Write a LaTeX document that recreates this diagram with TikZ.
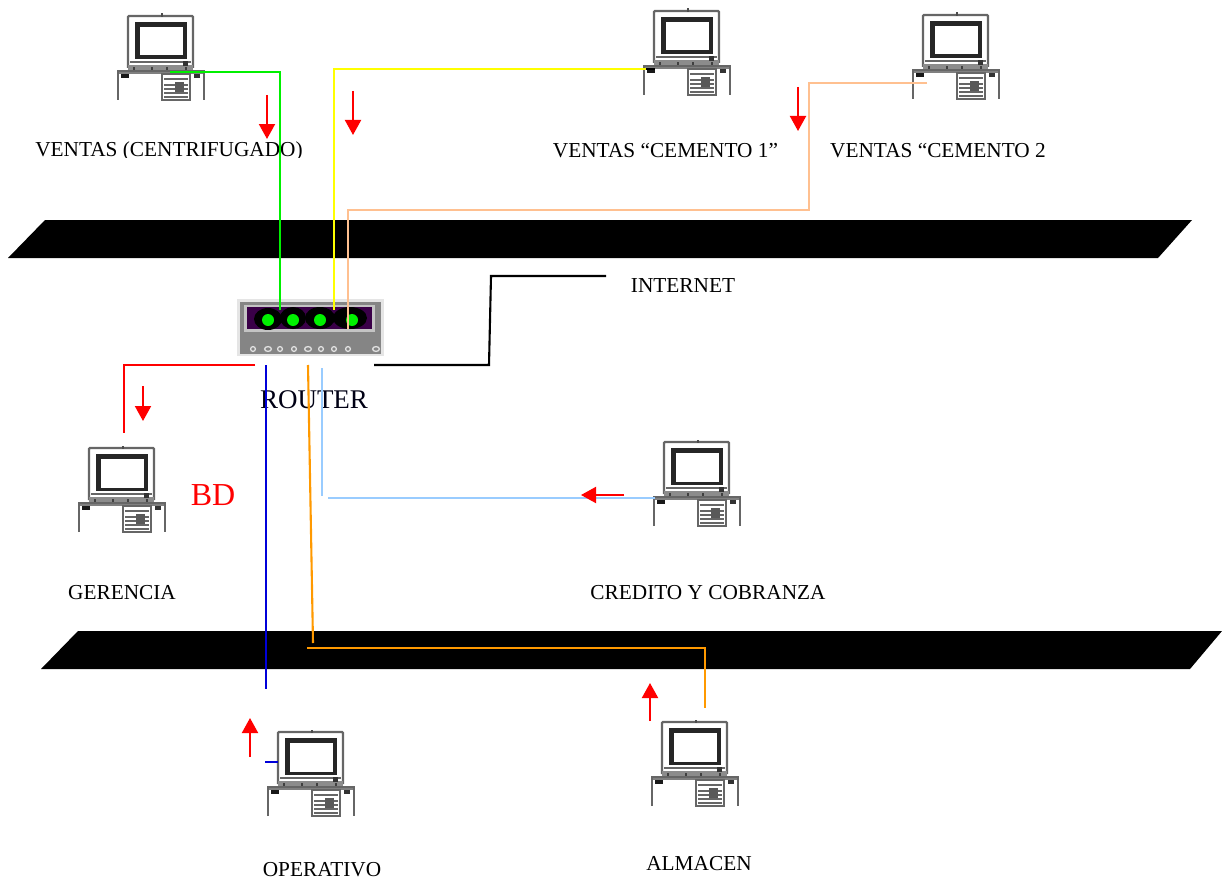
\documentclass[tikz,border=0pt]{standalone}
\usepackage{fontspec}
\setmainfont{Liberation Serif}
\usetikzlibrary{arrows.meta}
\definecolor{peach}{HTML}{FFC090}
\definecolor{lblue}{HTML}{99CCFF}
\definecolor{orng}{HTML}{FF9900}
\definecolor{grn}{HTML}{00F000}
\definecolor{yel}{HTML}{FFFF00}
\definecolor{rgray}{HTML}{858585}
\definecolor{rlight}{HTML}{C4C4C4}
\definecolor{rpurp}{HTML}{3A0048}
\tikzset{
  x=1pt,y=-1pt,
  wire/.style={line width=2.1pt},
  flow/.style={draw=red,line width=2pt,-{Triangle[length=15pt,width=16pt]}},
  lbl/.style={inner sep=0pt,font=\fontsize{21.3}{23}\selectfont},
  bus/.style={fill=black,draw=none},
  pc/.pic={
    % monitor
    \fill[white] (11,1) rectangle (76,53);
    \draw[draw=black!60,line width=2.2pt,rounded corners=1pt] (11,53) -- (11,1) -- (76,1) -- (76,53);
    \fill[black!70] (43.5,-1.5) rectangle (46,2);
    % screen frame
    \fill[black!85] (18,7) rectangle (70,44);
    \fill[white] (23,12) rectangle (66,40.5);
    \draw[black!60,line width=1.4pt] (13,47) -- (74,47);
    % base band
    \fill[black!45] (11,50) rectangle (76,55);
    \fill[black!80] (66,46) rectangle (71,51);
    \foreach \xx in {16,34,49,68} \fill[black!75] (\xx,52) rectangle +(1.6,5);
    \fill[white] (0,57) rectangle (88,85);
    \fill[black!50] (0,55) rectangle (88,59);
    \draw[black!60,line width=2pt] (1,85) -- (1,56) -- (87,56) -- (87,85);
    \fill[black!90] (4,59) rectangle (12,63);
    \fill[black!80] (77,59) rectangle (83,63);
    % drive unit
    \draw[black!60,line width=1.8pt,fill=white] (45,59) rectangle (73,85);
    \foreach \yy in {64,70,74,78,82} \draw[black!60,line width=1.2pt] (47,\yy) -- (71,\yy);
    \fill[black!65] (58,67) rectangle (67,77);
  }
}
\begin{document}
\begin{tikzpicture}
\useasboundingbox (0,0) rectangle (1222,880);
% buses
\fill[bus] (8,258) -- (45,220) -- (1192,220) -- (1158,258) -- cycle;
\fill[bus] (41,669) -- (78,631) -- (1222,631) -- (1190,669) -- cycle;
% computers
\pic at (117,15) {pc};
\pic at (643,10) {pc};
\pic at (912,14) {pc};
\pic at (78,447) {pc};
\pic at (653,441) {pc};
\pic at (267,731) {pc};
\pic at (651,721) {pc};
% router
\fill[gray!20] (237,299) rectangle (384,356);
\fill[rgray] (240,302) rectangle (381,354);
\fill[rlight] (244,305) rectangle (375,332);
\fill[rpurp] (247,307) rectangle (372,329);
\begin{scope}
\clip (247,307) rectangle (372,329);
\fill[black] (268,319) ellipse (14 and 11);
\fill[black] (293,318) ellipse (13 and 11);
\fill[black] (320,318) ellipse (15 and 11);
\fill[black] (350,318) ellipse (17 and 11);
\end{scope}
\foreach \xx in {268,293,320,352} \fill[green!95!black] (\xx,320) circle (6);
\foreach \xx in {253,280,294,321,334,348} \draw[black!12,line width=1.3pt] (\xx,349) circle (2.4);
\foreach \xx in {268,308,376} \draw[black!12,line width=1.3pt] (\xx,349) ellipse (3.4 and 2.4);
% labels
\begin{scope}
\clip (0,100) rectangle (1222,157);
\node[lbl] (tA) at (169,151) {VENTAS (CENTRIFUGADO)};
\end{scope}
\node[lbl] (tB) at (665.5,151) {VENTAS “CEMENTO 1”};
\node[lbl] (tC) at (938,151) {VENTAS “CEMENTO 2};
\begin{scope}
\clip (600,265) rectangle (760,292);
\node[lbl] (tI) at (683,286) {INTERNET};
\end{scope}
\node[inner sep=0pt,text=black!92!blue,font=\fontsize{27}{30}\selectfont] (tR) at (314,400) {ROUTER};
\node[inner sep=0pt,text=red,font=\fontsize{32}{34}\selectfont] (tBD) at (213,495) {BD};
\node[lbl] (tG) at (122,593) {GERENCIA};
\node[lbl] (tCr) at (708,593) {CREDITO Y COBRANZA};
\node[lbl] (tO) at (322,870) {OPERATIVO};
\node[lbl] (tAl) at (699,864) {ALMACEN};
% connector ends
\coordinate (pcA) at (170,72);
\coordinate (rA) at (280,310);
\coordinate (pcB) at (655,69);
\coordinate (rB) at (334,310);
\coordinate (pcC) at (927,83);
\coordinate (cBendA) at (809,210);
\coordinate (rC) at (348,329);
\coordinate (rInt) at (374,365);
\coordinate (intA) at (489,365);
\coordinate (intB) at (491,276);
\coordinate (intC) at (606,276);
\coordinate (rGer) at (255,365);
\coordinate (pcGer) at (124,433);
\coordinate (rOpA) at (266,365);
\coordinate (rOpB) at (266,689);
\coordinate (pcOpA) at (265,762);
\coordinate (pcOpB) at (278,762);
\coordinate (rAlmA) at (308,365);
\coordinate (rAlmB) at (313,643);
\coordinate (almA) at (307,648);
\coordinate (pcAlm) at (705,708);
\coordinate (rCrA) at (322,368);
\coordinate (rCrB) at (322,496);
\coordinate (crA) at (328,498);
\coordinate (pcCr) at (655,498);
% connectors
\draw[wire,grn] (pcA) -| (rA);
\draw[wire,yel] (pcB) -| (rB);
\draw[wire,black] (646,69) -- (pcB);
\draw[wire,peach] (pcC) -| (cBendA) -| (rC);
\draw[wire,black] (rInt) -- (intA) -- (intB) -- (intC);
\draw[wire,red] (rGer) -| (pcGer);
\draw[wire,blue!85!black] (rOpA) -- (rOpB);
\draw[wire,blue!85!black] (pcOpA) -- (pcOpB);
\draw[wire,orng] (rAlmA) -- (rAlmB);
\draw[wire,orng] (almA) -| (pcAlm);
\draw[wire,lblue] (rCrA) -- (rCrB);
\draw[wire,lblue] (crA) -- (pcCr);
% arrows
\coordinate (fa1) at (267,95); \coordinate (fa2) at (267,139);
\coordinate (fb1) at (353,91); \coordinate (fb2) at (353,135);
\coordinate (fc1) at (798,87); \coordinate (fc2) at (798,131);
\coordinate (fd1) at (143,386); \coordinate (fd2) at (143,421);
\coordinate (fe1) at (624,495); \coordinate (fe2) at (581,495);
\coordinate (ff1) at (250,757); \coordinate (ff2) at (250,718);
\coordinate (fg1) at (650,721); \coordinate (fg2) at (650,683);
\draw[flow] (fa1) -- (fa2);
\draw[flow] (fb1) -- (fb2);
\draw[flow] (fc1) -- (fc2);
\draw[flow] (fd1) -- (fd2);
\draw[flow] (fe1) -- (fe2);
\draw[flow] (ff1) -- (ff2);
\draw[flow] (fg1) -- (fg2);
\end{tikzpicture}
\end{document}
